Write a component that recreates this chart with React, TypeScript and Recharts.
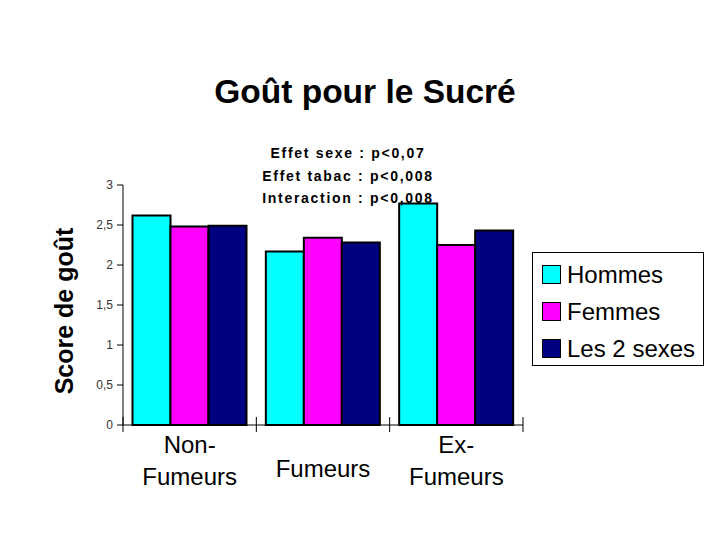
import { BarChart, Bar, XAxis, YAxis, Legend } from "recharts"

const categories = ["Non-Fumeurs", "Fumeurs", "Ex-Fumeurs"]
const seriesNames = ["Hommes", "Femmes", "Les 2 sexes"]
const hommes = [2.62, 2.17, 2.77]
const femmes = [2.48, 2.34, 2.25]
const lesDeux = [2.49, 2.28, 2.43]
const yTicks = [0, 0.5, 1, 1.5, 2, 2.5, 3]
const notes = ["Effet sexe : p<0,07", "Effet tabac : p<0,008", "Interaction : p<0,008"]

const data = categories.map((name, i) => ({
  name,
  hommes: hommes[i],
  femmes: femmes[i],
  lesDeux: lesDeux[i],
}))

const FONT = "'Liberation Sans', Arial, sans-serif"
const W = 720
const H = 540
const M = { top: 185, right: 197, bottom: 55, left: 0 }
const Y_W = 123
const BAND = (W - M.right - Y_W) / categories.length

function CategoryTick({ x, y, payload, index }: any) {
  const label: string = payload.value
  const cut = label.indexOf("-")
  const lines = cut >= 0 ? [label.slice(0, cut + 1), label.slice(cut + 1)] : [label]
  const right = x + BAND / 2
  const left = x - BAND / 2
  return (
    <g>
      {index === 0 && <line x1={left} x2={left} y1={y - 8} y2={y + 7} stroke="#000" strokeWidth={1} />}
      <line x1={right} x2={right} y1={y - 8} y2={y + 7} stroke="#000" strokeWidth={1} />
      {lines.length === 1 ? (
        <text x={x} y={y + 52} textAnchor="middle" fontSize={24} fontFamily={FONT} fill="#000">
          {lines[0]}
        </text>
      ) : (
        lines.map((l, i) => (
          <text key={i} x={x} y={y + 28 + i * 32} textAnchor="middle" fontSize={24} fontFamily={FONT} fill="#000">
            {l}
          </text>
        ))
      )}
    </g>
  )
}

function LegendBox({ payload }: any) {
  const items = [...(payload || [])].sort(
    (a: any, b: any) => seriesNames.indexOf(a.value) - seriesNames.indexOf(b.value)
  )
  return (
    <div
      style={{
        border: "1px solid #000",
        width: 172,
        height: 114,
        boxSizing: "border-box",
        paddingTop: 3,
        fontFamily: FONT,
        background: "#fff",
      }}
    >
      {items.map((p: any) => (
        <div key={p.value} style={{ display: "flex", alignItems: "center", height: 37, paddingLeft: 9 }}>
          <span
            style={{
              display: "inline-block",
              width: 17,
              height: 17,
              background: p.color,
              border: "1.5px solid #000",
              marginRight: 6,
            }}
          />
          <span style={{ fontSize: 24, color: "#000", lineHeight: "24px" }}>{p.value}</span>
        </div>
      ))}
    </div>
  )
}

export default function App() {
  return (
    <div style={{ position: "absolute", left: 0, top: 0, width: W, height: H, background: "#fff" }}>
      <BarChart width={W} height={H} data={data} margin={M} barCategoryGap={9.5} barGap={0}>
        <XAxis
          dataKey="name"
          height={60}
          axisLine={{ stroke: "#000", strokeWidth: 1 }}
          tickLine={false}
          tickSize={0}
          tickMargin={0}
          interval={0}
          tick={<CategoryTick />}
        />
        <YAxis
          width={Y_W}
          domain={[0, 3]}
          ticks={yTicks}
          interval={0}
          axisLine={{ stroke: "#000", strokeWidth: 1 }}
          tickLine={{ stroke: "#000" }}
          tickSize={6}
          tickMargin={4}
          tick={{ fontSize: 12, fill: "#333", fontFamily: FONT }}
          tickFormatter={(v) => String(v).replace(".", ",")}
        />
        <Legend
          layout="vertical"
          align="center"
          verticalAlign="middle"
          content={<LegendBox />}
          wrapperStyle={{ left: 532, top: 252, width: 174, height: 116 }}
        />
        <Bar dataKey="hommes" name={seriesNames[0]} fill="#00FFFF" stroke="#000" strokeWidth={2} isAnimationActive={false} />
        <Bar dataKey="femmes" name={seriesNames[1]} fill="#FF00FF" stroke="#000" strokeWidth={2} isAnimationActive={false} />
        <Bar dataKey="lesDeux" name={seriesNames[2]} fill="#000080" stroke="#000" strokeWidth={2} isAnimationActive={false} />
      </BarChart>
      <svg width={W} height={H} style={{ position: "absolute", left: 0, top: 0, pointerEvents: "none" }}>
        <text x={365} y={103} textAnchor="middle" fontSize={33.5} fontWeight="bold" fontFamily={FONT} fill="#000">
          Goût pour le Sucré
        </text>
        {notes.map((n, i) => (
          <text
            key={n}
            x={348}
            y={158 + i * 22.5}
            textAnchor="middle"
            fontSize={14}
            fontWeight="bold"
            letterSpacing={1.7}
            fontFamily={FONT}
            fill="#000"
          >
            {n}
          </text>
        ))}
        <text
          x={73}
          y={311}
          transform="rotate(-90 73 311)"
          textAnchor="middle"
          fontSize={25}
          fontWeight="bold"
          fontFamily={FONT}
          fill="#000"
        >
          Score de goût
        </text>
      </svg>
    </div>
  )
}
